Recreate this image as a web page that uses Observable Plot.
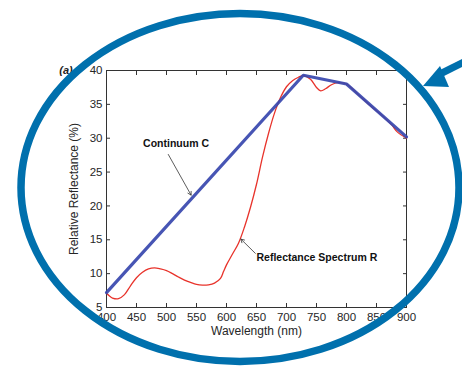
<!DOCTYPE html>
<html>
<head>
<meta charset="utf-8">
<script src="https://cdn.jsdelivr.net/npm/d3@7"></script>
<script src="https://cdn.jsdelivr.net/npm/@observablehq/plot@0.6"></script>
<style>
  html, body { margin: 0; padding: 0; background: #fff; }
  #chart { width: 462px; height: 368px; }
</style>
</head>
<body>
<div id="chart"></div>
<script>
// Reflectance spectrum R (red)
const spectrumWavelength = [400,405,410,420,430,440,450,460,470,480,490,500,510,520,530,540,550,560,570,580,590,595,600,610,620,630,640,650,660,670,680,690,700,710,720,728,740,750,757,765,775,785,800,820,840,860,875,885,900];
const spectrumValue      = [7.1,6.7,6.4,6.3,6.9,8.2,9.4,10.2,10.7,10.85,10.7,10.45,10.0,9.5,9.05,8.7,8.4,8.3,8.35,8.6,9.3,10.3,11.3,12.9,14.5,16.9,19.8,23.2,27.2,30.7,33.7,36.0,37.6,38.5,39.0,39.25,38.7,37.5,37.0,37.3,37.9,38.2,38.0,36.4,34.8,33.3,32.0,30.9,30.0];
// Continuum C (blue), convex hull vertices
const continuumWavelength = [400, 728, 800, 900];
const continuumValue      = [7.2, 39.3, 38.0, 30.2];
// Axis ticks
const xTicks = [400,450,500,550,600,650,700,750,800,850,900];
const yTicks = [5,10,15,20,25,30,35,40];

const spectrum = spectrumWavelength.map((w, i) => ({w, v: spectrumValue[i]}));
const continuum = continuumWavelength.map((w, i) => ({w, v: continuumValue[i]}));

const font = "'Liberation Sans', Arial, Helvetica, sans-serif";
const axisColor = "#333";
const blank = () => "";

const plot = Plot.plot({
  width: 462,
  height: 368,
  marginLeft: 106,
  marginRight: 56,
  marginTop: 70,
  marginBottom: 61,
  style: {fontFamily: font, fontSize: "11.5px", color: "#262626", background: "#fff", overflow: "visible"},
  x: {domain: [400, 900]},
  y: {domain: [5, 40]},
  marks: [
    Plot.frame({stroke: axisColor, strokeWidth: 1}),
    Plot.axisX(xTicks, {anchor: "bottom", tickSize: -4, tickPadding: 9, stroke: axisColor, fill: "#262626", fontSize: 11.5, label: null}),
    Plot.axisX(xTicks, {anchor: "top", tickSize: -4, tickFormat: blank, stroke: axisColor, label: null}),
    Plot.axisY(yTicks, {anchor: "left", tickSize: -4, tickPadding: 8, stroke: axisColor, fill: "#262626", fontSize: 11.5, label: null}),
    Plot.axisY(yTicks, {anchor: "right", tickSize: -4, tickFormat: blank, stroke: axisColor, label: null}),
    Plot.line(spectrum, {x: "w", y: "v", stroke: "#e8332b", strokeWidth: 1.3, curve: "catmull-rom"}),
    Plot.line(continuum, {x: "w", y: "v", stroke: "#3747ae", strokeWidth: 3.2, strokeOpacity: 0.92}),
    Plot.text(["Wavelength (nm)"], {frameAnchor: "bottom", dy: 27, fontSize: 12, fill: "#262626"}),
    Plot.text(["Relative Reflectance (%)"], {frameAnchor: "left", textAnchor: "middle", dx: -32, rotate: -90, fontSize: 12, fill: "#262626"}),
    Plot.text(["Continuum C"], {x: [461], y: [29.2], text: d => d, fontWeight: "bold", fontSize: 10.5, textAnchor: "start", fill: "#111"}),
    Plot.arrow([{x1: 503, y1: 27.6, x2: 541, y2: 21.6}], {x1: "x1", y1: "y1", x2: "x2", y2: "y2", stroke: "#333", strokeWidth: 0.8, headLength: 7}),
    Plot.text(["Reflectance Spectrum R"], {x: [650], y: [12.3], text: d => d, fontWeight: "bold", fontSize: 10.5, textAnchor: "start", fill: "#111"}),
    Plot.arrow([{x1: 648, y1: 13.0, x2: 624, y2: 15.1}], {x1: "x1", y1: "y1", x2: "x2", y2: "y2", stroke: "#333", strokeWidth: 0.8, headLength: 7})
  ]
});

document.getElementById("chart").appendChild(plot);

// Overlay annotation: blue ellipse, arrow and partial "(a)" label
const svg = d3.select(plot);
svg.append("text")
  .attr("x", 66).attr("y", 74)
  .attr("font-family", font).attr("font-size", 11)
  .attr("font-weight", "bold").attr("font-style", "italic")
  .attr("fill", "#222").text("(a)");
svg.append("ellipse")
  .attr("cx", 240).attr("cy", 187.5)
  .attr("rx", 219).attr("ry", 174)
  .attr("fill", "none").attr("stroke", "#0070ad").attr("stroke-width", 7.5);
svg.append("line")
  .attr("x1", 466).attr("y1", 61).attr("x2", 440).attr("y2", 74)
  .attr("stroke", "#0070ad").attr("stroke-width", 7);
svg.append("polygon")
  .attr("points", "423,86 440,66 449,87")
  .attr("fill", "#0070ad");
</script>
</body>
</html>
